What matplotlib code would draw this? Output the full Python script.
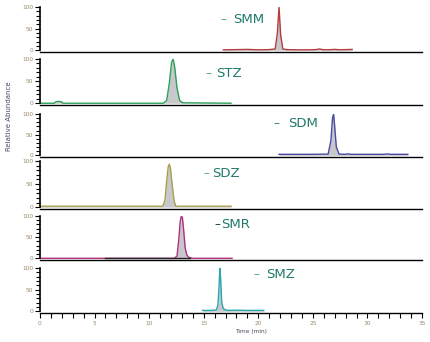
import matplotlib
matplotlib.use("Agg")
import matplotlib.pyplot as plt
from matplotlib.ticker import MultipleLocator

# retention time (min) / relative abundance (%) for each extracted ion trace
smm_t = [16.8, 18.0, 19.0, 20.0, 21.0, 21.55, 21.75, 21.9, 22.05, 22.25, 22.6, 23.5, 24.5, 25.3, 25.6, 25.9, 26.3, 27.0, 27.5, 28.0, 28.6]
smm_y = [1, 1.5, 2, 1, 1.5, 3, 40, 100, 35, 3, 1.5, 1, 1, 1.5, 3, 1.5, 1, 2, 1, 1.5, 2]

stz_t = [0.0, 1.3, 1.45, 1.6, 1.8, 2.0, 2.1, 5.0, 10.0, 11.3, 11.6, 11.85, 12.05, 12.2, 12.35, 12.55, 12.8, 13.1, 17.5]
stz_y = [0, 0, 3, 4, 4, 3, 0, 0, 0, 0, 6, 45, 92, 100, 80, 35, 6, 1, 0]

sdm_t = [21.9, 25.0, 26.4, 26.65, 26.8, 26.9, 27.0, 27.15, 27.4, 28.0, 28.2, 28.4, 30.0, 31.5, 31.8, 32.1, 33.7]
sdm_y = [2.5, 2.5, 3, 35, 90, 100, 70, 20, 3, 2.5, 4, 2.5, 2.5, 2.5, 3.5, 2.5, 2.5]

sdz_t = [0.0, 10.0, 11.25, 11.45, 11.6, 11.75, 11.85, 11.95, 12.1, 12.3, 12.45, 13.5, 17.5]
sdz_y = [2, 2, 2, 15, 55, 88, 93, 85, 50, 12, 2, 2, 2]

smr_t = [0.0, 12.3, 12.55, 12.7, 12.85, 12.95, 13.05, 13.15, 13.3, 13.45, 13.65, 14.0, 17.6]
smr_y = [0, 0, 5, 40, 88, 100, 96, 70, 25, 8, 2, 0, 0]
smr_ref_t = [6.0, 13.7]
smr_ref_y = [0, 0]

smz_t = [14.9, 15.8, 16.15, 16.3, 16.4, 16.48, 16.55, 16.65, 16.8, 17.0, 17.3, 18.0, 19.0, 20.5]
smz_y = [2, 2, 3, 14, 55, 100, 75, 20, 6, 3, 2, 2.5, 2, 2]

names = ["SMM", "STZ", "SDM", "SDZ", "SMR", "SMZ"]
traces = [(smm_t, smm_y), (stz_t, stz_y), (sdm_t, sdm_y),
          (sdz_t, sdz_y), (smr_t, smr_y), (smz_t, smz_y)]
colors = ["#b43c3c", "#2aa05a", "#4a4aa0", "#a8a048", "#b03080", "#28a8b0"]
# compound label: dash x, name x, height (min, min, %)
label_pos = [(16.5, 17.65, 70), (15.2, 16.1, 68), (21.35, 22.7, 78),
             (14.95, 15.8, 72), (15.95, 16.6, 79), (19.6, 20.75, 84)]
dash_col = ["#5aa88a", "#5aa88a", "#3a7a6a", "#5aa88a", "#1a4a3a", "#5aa88a"]

W, H = 430, 342
fig = plt.figure(figsize=(W / 100, H / 100), dpi=100)

panels = [(7, 52), (59, 105), (114, 157), (161, 209), (216, 260), (268, 313)]
tick_col = "#9a8a6a"

for i, ((top, bot), (t, y)) in enumerate(zip(panels, traces)):
    ax = fig.add_axes([40 / W, 1 - bot / H, 382 / W, (bot - top) / H])
    ax.set_xlim(0, 35)
    ax.set_ylim(-4, 100)
    ax.fill_between(t, 0, y, color="#c8c8cc", lw=0)
    ax.plot(t, y, color=colors[i], lw=1.0)
    if names[i] == "SMR":
        ax.plot(smr_ref_t, smr_ref_y, color="#202020", lw=1.0)
    for s in ["top", "right"]:
        ax.spines[s].set_visible(False)
    ax.spines["bottom"].set_linewidth(1.0)
    ax.spines["left"].set_linewidth(1.2)
    ax.spines["left"].set_bounds(0, 100)
    ax.set_yticks([0, 50, 100])
    ax.yaxis.set_minor_locator(MultipleLocator(10))
    ax.tick_params(axis="y", which="both", length=3.5, width=0.8, pad=1.5,
                   labelsize=4.2, labelcolor=tick_col)
    ax.tick_params(axis="y", which="minor", length=3)
    if i < 5:
        ax.set_xticks([])
    else:
        ax.xaxis.set_major_locator(MultipleLocator(5))
        ax.xaxis.set_minor_locator(MultipleLocator(1))
        ax.tick_params(axis="x", which="both", length=3.5, width=0.8, pad=2,
                       labelsize=4.2, labelcolor=tick_col)
    dx, nx, ly = label_pos[i]
    ax.text(dx, ly, "\u2013", color=dash_col[i], fontsize=8.5, va="center", ha="left")
    ax.text(nx, ly, names[i], color="#1f7a6a", fontsize=9.5,
            va="center", ha="left")

fig.text(9 / W, 1 - 116 / H, "Relative Abundance", rotation=90, fontsize=5,
         color="#4a4a6a", ha="center", va="center")
fig.text(251 / W, 1 - 331 / H, "Time (min)", fontsize=4.2, color="#4a4a5a",
         ha="center", va="center")

fig.savefig("out.png", dpi=100)
